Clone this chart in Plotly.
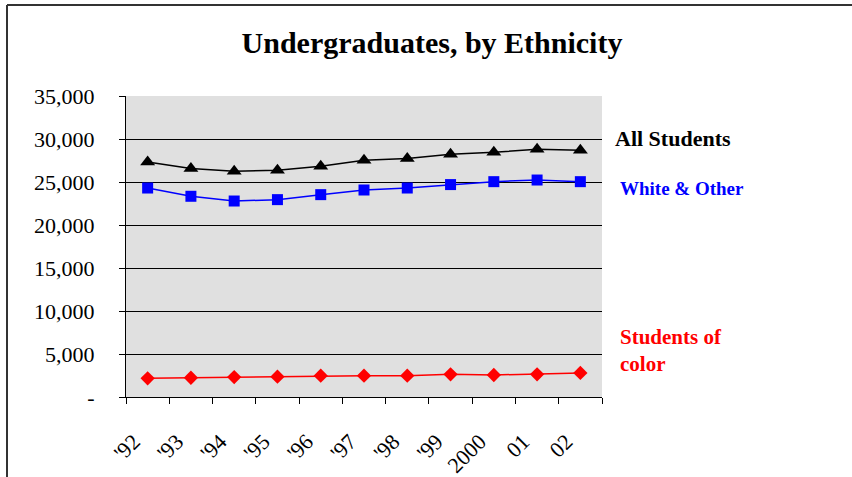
import plotly.graph_objects as go

years = ["'92", "'93", "'94", "'95", "'96", "'97", "'98", "'99", "2000", "01", "02"]
all_students = [27330, 26560, 26240, 26360, 26830, 27520, 27720, 28220, 28450, 28800, 28690]
white_other = [24300, 23340, 22790, 22950, 23530, 24070, 24300, 24700, 25040, 25230, 25040]
students_of_color = [2170, 2240, 2320, 2360, 2480, 2480, 2480, 2640, 2560, 2640, 2800]

y_tickvals = [0, 5000, 10000, 15000, 20000, 25000, 30000, 35000]
y_ticktext = ["-", "5,000", "10,000", "15,000", "20,000", "25,000", "30,000", "35,000"]

FONT = "Liberation Serif, Times New Roman, serif"

fig = go.Figure()
fig.add_trace(go.Scatter(
    x=years, y=all_students, mode="lines+markers",
    line=dict(color="black", width=1.5),
    marker=dict(symbol="triangle-up", size=13, color="black"),
    name="All Students",
))
fig.add_trace(go.Scatter(
    x=years, y=white_other, mode="lines+markers",
    line=dict(color="#0000FF", width=1.5),
    marker=dict(symbol="square", size=11, color="#0000FF"),
    name="White & Other",
))
fig.add_trace(go.Scatter(
    x=years, y=students_of_color, mode="lines+markers",
    line=dict(color="#FF0000", width=1.5),
    marker=dict(symbol="diamond", size=11, color="#FF0000"),
    name="Students of color",
))

L, R, T, B = 126, 250, 96, 80
W, H = 852, 477
pw, ph = W - L - R, H - T - B


def px_x(x):
    return (x - L) / pw


def px_y(y):
    return (H - B - y) / ph


fig.update_layout(
    width=W, height=H,
    margin=dict(l=L, r=R, t=T, b=B, autoexpand=False),
    paper_bgcolor="white",
    plot_bgcolor="#E0E0E0",
    showlegend=False,
    font=dict(family=FONT, color="black"),
    title=dict(
        text="<b>Undergraduates, by Ethnicity</b>",
        x=432 / W, xanchor="center",
        y=1 - 42 / H, yanchor="middle",
        font=dict(family=FONT, size=30, color="black"),
    ),
    xaxis=dict(
        type="category", range=[-0.5, 10.5], automargin=False,
        tickson="boundaries", ticks="outside", ticklen=6, tickcolor="black",
        tickangle=-45, ticklabelstandoff=22, ticklabelshift=-14,
        tickfont=dict(family=FONT, size=22, color="black"),
        showgrid=False, showline=True, linecolor="black", linewidth=1,
        zeroline=False,
    ),
    yaxis=dict(
        range=[0, 35000], tickvals=y_tickvals, ticktext=y_ticktext,
        automargin=False,
        ticks="outside", ticklen=6, tickcolor="black",
        ticklabelstandoff=20,
        tickfont=dict(family=FONT, size=22, color="black"),
        showgrid=True, gridcolor="black", gridwidth=1,
        showline=True, linecolor="black", linewidth=1,
        zeroline=False,
    ),
)

# series labels beside the plot
fig.add_annotation(x=px_x(613), y=px_y(138), xref="paper", yref="paper",
                   xanchor="left", yanchor="middle", showarrow=False,
                   text="<b>All Students</b>",
                   font=dict(family=FONT, size=22, color="black"))
fig.add_annotation(x=px_x(618), y=px_y(188), xref="paper", yref="paper",
                   xanchor="left", yanchor="middle", showarrow=False,
                   text="<b>White & Other</b>",
                   font=dict(family=FONT, size=19, color="#0000FF"))
fig.add_annotation(x=px_x(618), y=px_y(350), xref="paper", yref="paper",
                   xanchor="left", yanchor="middle", showarrow=False, align="left",
                   text="<b>Students of<br>color</b>",
                   font=dict(family=FONT, size=21, color="#FF0000"))

# outer frame (top and left edges)
frame = dict(color="#333333", width=2)
fig.add_shape(type="line", xref="paper", yref="paper",
              x0=px_x(7), y0=px_y(5), x1=px_x(W + 5), y1=px_y(5), line=frame)
fig.add_shape(type="line", xref="paper", yref="paper",
              x0=px_x(7), y0=px_y(5), x1=px_x(7), y1=px_y(H + 5), line=frame)

fig.write_html("out.html")
